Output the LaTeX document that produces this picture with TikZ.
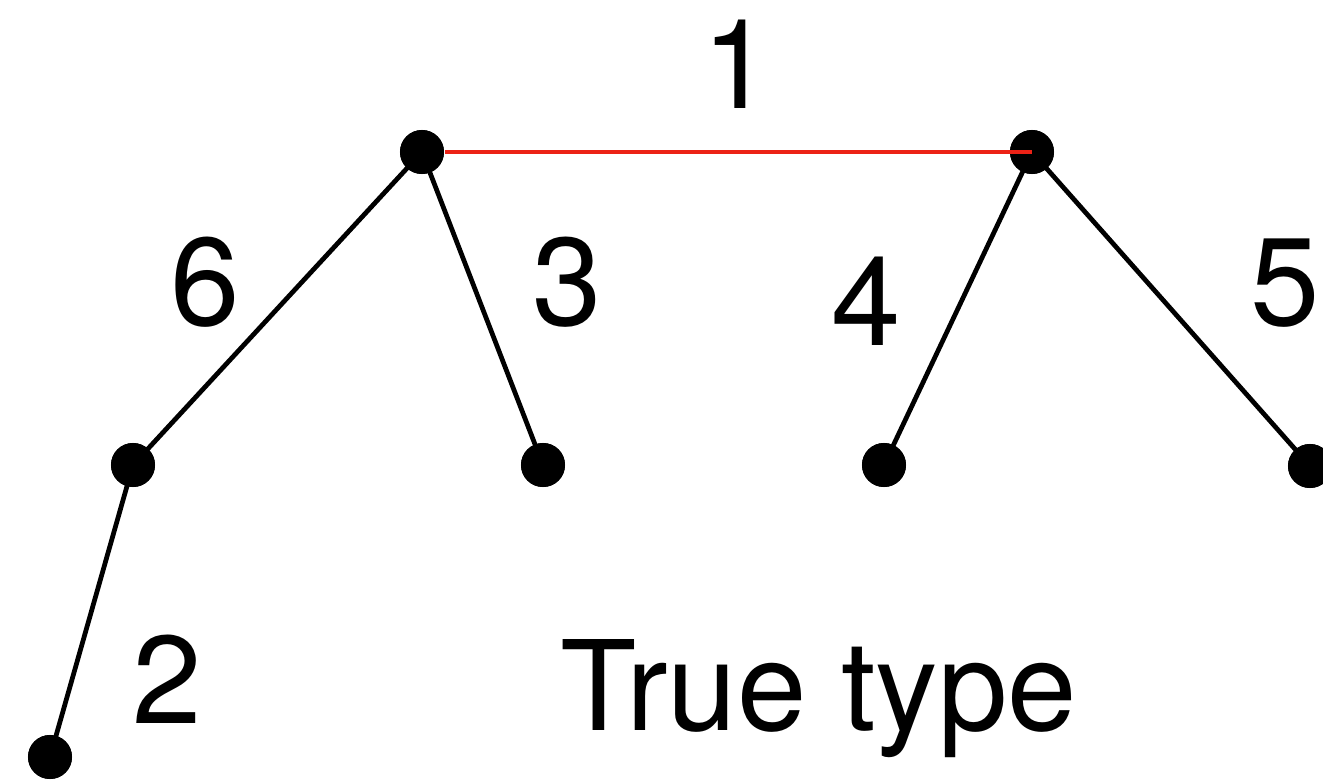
\documentclass[tikz,border=0pt]{standalone}
\usepackage{fontspec}
\setmainfont{TeX Gyre Heros}
\definecolor{edgered}{RGB}{236,34,22}
\begin{document}
\begin{tikzpicture}[x=0.01cm,y=-0.01cm,
  dot/.style={circle,fill=black,inner sep=0pt,minimum size=0.44cm},
  edge/.style={line width=1.35pt,black},
  redge/.style={line width=1.35pt,edgered},
  lbl/.style={anchor=base,inner sep=0pt,font=\fontsize{35.5}{40}\selectfont}]
\useasboundingbox (0,0) rectangle (1323,781);
\node[dot] (A) at (422,152) {};
\node[dot] (B) at (1032,152) {};
\node[dot] (C) at (133,465) {};
\node[dot] (D) at (543,465) {};
\node[dot] (E) at (884,465) {};
\node[dot] (F) at (1310,466) {};
\node[dot] (G) at (50,757) {};
\draw[edge] (A.center) -- (C.center);
\draw[edge] (A.center) -- (D.center);
\draw[edge] (B.center) -- (E.center);
\draw[edge] (B.center) -- (F.center);
\draw[edge] (C.center) -- (G.center);
\node[dot] at (A) {};
\node[dot] at (B) {};
\node[dot] at (C) {};
\node[dot] at (D) {};
\node[dot] at (E) {};
\node[dot] at (F) {};
\node[dot] at (G) {};
\draw[redge] (A.east) -- (B.center);
\node[lbl] (l1) at (737,108) {1};
\node[lbl] (l6) at (205,325) {6};
\node[lbl] (l3) at (567,325) {3};
\node[lbl] (l4) at (866,345) {4};
\node[lbl] (l5) at (1285,325) {5};
\node[lbl] (l2) at (167,723) {2};
\node[lbl] (tt) at (819,730) {True type};
\end{tikzpicture}
\end{document}
